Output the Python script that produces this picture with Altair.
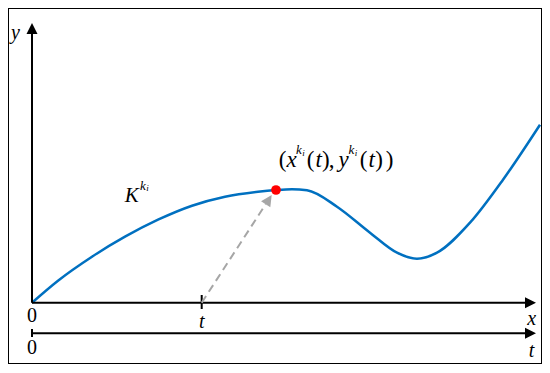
import altair as alt
import pandas as pd

# Curve K^{k_i}: positions relative to the origin (x right, y up)
curve_x = [0, 26, 60, 93, 126, 160, 193, 226, 244, 260, 275, 305, 338, 365, 385, 405, 438, 471, 508]
curve_y = [0, 22, 46, 66, 83, 97, 106, 111, 112.7, 113.5, 112.5, 96, 70, 50, 44, 50, 80, 123, 178]

# Marked point (x^{k_i}(t), y^{k_i}(t)) and time t on the x axis
point_x = [244]
point_y = [112.7]
t_value = 169.7

FONT = "Liberation Serif"
X_DOM = [-24, 510]
Y_DOM = [-61.3, 294.7]

xs = alt.Scale(domain=X_DOM, nice=False, zero=False)
ys = alt.Scale(domain=Y_DOM, nice=False, zero=False)

curve_df = pd.DataFrame({"x": curve_x, "y": curve_y})

# axis lines and ticks
rules_df = pd.DataFrame([
    {"x": 0, "y": 0, "x2": 0, "y2": 269},          # y axis
    {"x": 0, "y": 0, "x2": 493, "y2": 0},          # x axis
    {"x": 0, "y": -30.6, "x2": 493, "y2": -30.6},  # t axis
    {"x": t_value, "y": 7.7, "x2": t_value, "y2": -6.3},  # tick t
    {"x": 0, "y": -26.3, "x2": 0, "y2": -34.3},    # tick 0 on t axis
])

dash_df = pd.DataFrame([{"x": t_value, "y": 0, "x2": 233.7, "y2": 98.5}])

TRI = "M0,-1L1,1L-1,1Z"
heads_df = pd.DataFrame([
    {"x": 0, "y": 274.2, "angle": 0, "c": "black"},
    {"x": 498.5, "y": 0, "angle": 90, "c": "black"},
    {"x": 498.5, "y": -30.6, "angle": 90, "c": "black"},
    {"x": 236.7, "y": 103.1, "angle": 33, "c": "#a6a6a6"},
])

# text pieces: text, x, baseline y, font size, italic
texts = [
    ("0", 0, -19, 20, False),
    ("t", t_value, -25, 20, True),
    ("0", 0, -51.3, 20, False),
    ("x", 499.7, -22.3, 20, True),
    ("t", 499.5, -54, 20, True),
    ("y", -16.5, 264.2, 20, True),
    ("K", 99.7, 101, 21, True),
    ("k", 111, 112.5, 13, True),
    ("i", 115.4, 111.5, 9, True),
    ("(", 250.5, 135.7, 23, False),
    ("x", 259.5, 135.7, 23, True),
    ("k", 267, 148.7, 13, True),
    ("i", 271.5, 147.2, 9, True),
    ("(", 278.5, 135.7, 23, False),
    ("t", 286.8, 135.7, 23, True),
    (")", 293.8, 135.7, 23, False),
    (",", 299.5, 135.7, 23, False),
    ("y", 311.5, 135.7, 23, True),
    ("k", 319.5, 148.7, 13, True),
    ("i", 324, 147.2, 9, True),
    ("(", 331.5, 135.7, 23, False),
    ("t", 339.8, 135.7, 23, True),
    (")", 347, 135.7, 23, False),
    (")", 357.5, 135.7, 23, False),
]
text_df = pd.DataFrame(texts, columns=["text", "x", "y", "size", "italic"])

curve = alt.Chart(curve_df).mark_line(
    interpolate="monotone", color="#0070c0", strokeWidth=2.5
).encode(x=alt.X("x:Q", scale=xs, axis=None), y=alt.Y("y:Q", scale=ys, axis=None))

rules = alt.Chart(rules_df).mark_rule(color="black", strokeWidth=2).encode(
    x=alt.X("x:Q", scale=xs, axis=None), y=alt.Y("y:Q", scale=ys, axis=None),
    x2="x2:Q", y2="y2:Q")

dash = alt.Chart(dash_df).mark_rule(color="#a6a6a6", strokeWidth=2, strokeDash=[8, 5]).encode(
    x=alt.X("x:Q", scale=xs, axis=None), y=alt.Y("y:Q", scale=ys, axis=None),
    x2="x2:Q", y2="y2:Q")

heads = alt.Chart(heads_df).mark_point(shape=TRI, filled=True, size=121, opacity=1, strokeWidth=0).encode(
    x=alt.X("x:Q", scale=xs, axis=None), y=alt.Y("y:Q", scale=ys, axis=None),
    angle=alt.Angle("angle:Q", scale=None),
    color=alt.Color("c:N", scale=None))

dot = alt.Chart(pd.DataFrame({"x": point_x, "y": point_y})).mark_point(
    shape="circle", filled=True, size=95, color="#ff0000", opacity=1
).encode(x=alt.X("x:Q", scale=xs, axis=None), y=alt.Y("y:Q", scale=ys, axis=None))

def text_layer(italic):
    return alt.Chart(text_df[text_df["italic"] == italic]).mark_text(
        font=FONT, fontStyle="italic" if italic else "normal", baseline="alphabetic",
        align="center", color="black"
    ).encode(x=alt.X("x:Q", scale=xs, axis=None), y=alt.Y("y:Q", scale=ys, axis=None),
             text="text:N", size=alt.Size("size:Q", scale=None, legend=None))

chart = alt.layer(curve, rules, dash, heads, dot, text_layer(False), text_layer(True)).properties(
    width=534, height=356, padding=0, autosize=alt.AutoSizeParams(type="none")
).configure_view(stroke="black", strokeWidth=2)

chart.save("out.html", embed_options={"renderer": "svg", "actions": False})
